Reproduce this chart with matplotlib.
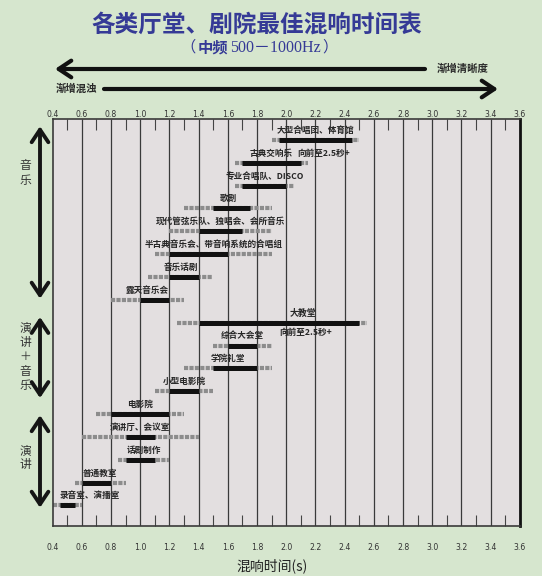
import matplotlib.pyplot as plt
from matplotlib.transforms import blended_transform_factory
import numpy as np

plt.rcParams['font.family'] = ['Noto Sans CJK SC', 'DejaVu Sans']

# rooms, top to bottom
names = ["大型合唱团、体育馆", "古典交响乐", "专业合唱队、DISCO", "歌剧",
         "现代管弦乐队、独唱会、会所音乐", "半古典音乐会、带音响系统的合唱组",
         "音乐话剧", "露天音乐会", "大教堂", "综合大会堂", "学院礼堂",
         "小型电影院", "电影院", "演讲厅、会议室", "话剧制作", "普通教室",
         "录音室、演播室"]
# acceptable range (grey dashed) and best range (black), seconds
range_lo = [1.9, 1.65, 1.65, 1.3, 1.2, 1.1, 1.05, 0.8, 1.25, 1.5, 1.3, 1.1, 0.7, 0.6, 0.85, 0.55, 0.4]
best_lo = [1.95, 1.7, 1.7, 1.5, 1.4, 1.2, 1.2, 1.0, 1.4, 1.6, 1.5, 1.2, 0.8, 0.9, 0.9, 0.6, 0.45]
best_hi = [2.45, 2.1, 2.0, 1.75, 1.7, 1.6, 1.4, 1.2, 2.5, 1.8, 1.8, 1.4, 1.2, 1.1, 1.1, 0.8, 0.55]
range_hi = [2.5, 2.15, 2.05, 1.9, 1.9, 1.9, 1.5, 1.3, 2.55, 1.9, 1.9, 1.5, 1.3, 1.4, 1.2, 0.9, 0.6]
notes = {1: "向前至2.5秒+", 8: "向前至2.5秒+"}

groups = ["音\n乐", "演\n讲\n＋\n音\n乐", "演\n讲"]
group_span = [(-0.6, 6.95), (7.75, 11.3), (12.05, 16.1)]
group_label_y = [1.45, 9.5, 13.9]

tick_vals = [0.4, 0.6, 0.8, 1.0, 1.2, 1.4, 1.6, 1.8, 2.0, 2.2, 2.4, 2.6, 2.8, 3.0, 3.2, 3.4, 3.6]
tick_labels = ["0.4", "0.6", "0.8", "1.0", "1.2", "1.4", "1.6", "1.8", "2.0",
               "2.2", "2.4", "2.6", "2.8", "3.0", "3.2", "3.4", "3.6"]
minor_vals = [0.5, 0.7, 0.9, 1.1, 1.3, 1.5, 1.7, 1.9, 2.1, 2.3, 2.5, 2.7, 2.9, 3.1, 3.3, 3.5]

BG = '#d6e6ce'
PLOT_BG = '#e3dfe0'
BLUE = '#353a96'
INK = '#262626'
NUM_FONT = ['Liberation Sans Narrow', 'DejaVu Sans']

fig = plt.figure(figsize=(5.42, 5.76), dpi=100, facecolor=BG)
ax = fig.add_axes([0.0972, 0.0868, 0.862, 0.706])
ax.set_facecolor(PLOT_BG)
ax.set_xlim(0.4, 3.6)
ax.set_ylim(16.9, -0.9)

# vertical grid lines
ax.vlines(tick_vals[1:-1], -0.9, 16.9, colors='#3a3a3a', lw=0.9, zorder=1)

ax.set_xticks(tick_vals)
ax.set_xticklabels(tick_labels, fontsize=5.6, family=NUM_FONT, color='#333')
ax.set_xticks(minor_vals, minor=True)
ax.tick_params(axis='x', which='major', length=0, pad=12.5)
ax.tick_params(axis='x', which='minor', direction='in', length=8, width=0.8,
               color='#444', top=True, bottom=True)
ax.set_yticks([])
top = ax.secondary_xaxis('top')
top.set_xticks(tick_vals)
top.set_xticklabels(tick_labels, fontsize=5.6, family=NUM_FONT, color='#333')
top.tick_params(length=0, pad=0.5)
top.spines['top'].set_visible(False)

for side in ['left', 'top', 'bottom']:
    ax.spines[side].set_color('#3a3a3a')
    ax.spines[side].set_linewidth(1.2)
ax.spines['right'].set_color('#111')
ax.spines['right'].set_linewidth(2)

for i, name in enumerate(names):
    ax.plot([range_lo[i], range_hi[i]], [i, i], color='#8c8c8c', lw=3,
            ls=(0, (1.0, 0.3)), dash_capstyle='butt', zorder=2)
    ax.plot([best_lo[i], best_hi[i]], [i, i], color='#111', lw=3.6,
            solid_capstyle='butt', zorder=3)
    mid = (range_lo[i] + range_hi[i]) / 2
    if i == 8:
        bmid = (best_lo[i] + best_hi[i]) / 2
        nt = ax.text(bmid, i + 0.42, notes[i], ha='left', va='center',
                     fontsize=6.2, weight='bold', color=INK, zorder=4)
        ax.annotate(name, xy=(0.45, i - 0.42), xycoords=(nt, 'data'),
                    ha='center', va='center', fontsize=6.4, weight='bold',
                    color=INK, zorder=4)
        continue
    if range_lo[i] <= 0.4:
        lab = ax.text(range_lo[i] + 0.05, i - 0.42, name, ha='left', va='center',
                      fontsize=6.2, weight='bold', color=INK, zorder=4)
    else:
        lab = ax.text(mid, i - 0.42, name, ha='center', va='center',
                      fontsize=6.2, weight='bold', color=INK, zorder=4)
    if i in notes:
        ax.annotate(notes[i], xy=(1, 0.5), xycoords=lab, xytext=(3, 0),
                    textcoords='offset points', ha='left', va='center',
                    fontsize=6.2, weight='bold', color=INK, zorder=4)

# group arrows at left
trans = blended_transform_factory(fig.transFigure, ax.transData)
for g, (y0, y1), ly in zip(groups, group_span, group_label_y):
    ax.annotate("", xy=(40 / 542, y0), xytext=(40 / 542, y1),
                xycoords=trans, textcoords=trans, annotation_clip=False,
                arrowprops=dict(arrowstyle='<->,head_length=0.9,head_width=0.6',
                                lw=2.8, color='#151515', shrinkA=0, shrinkB=0))
    ax.text(25 / 542, ly, g, transform=trans, ha='center', va='center',
            fontsize=8.5, color='#333', linespacing=1.15)

# title
fig.text(257 / 542, 1 - 25 / 576, "各类厅堂、剧院最佳混响时间表", ha='center',
         va='center', fontsize=17, weight='bold', color=BLUE)
p1 = fig.text(180 / 542, 1 - 56 / 576, "（", ha='left', va='bottom',
              fontsize=11, color=BLUE)
p2 = plt.annotate("中频", xy=(1, 0), xycoords=p1, xytext=(1.5, 0),
                  textcoords='offset points', ha='left', va='bottom',
                  fontsize=11, weight='bold', color=BLUE, annotation_clip=False)
p3 = plt.annotate("500－1000Hz", xy=(1, 0), xycoords=p2, xytext=(1.5, 0),
                  textcoords='offset points', ha='left', va='bottom',
                  fontsize=11.5, family=['Liberation Serif', 'Noto Sans CJK SC'],
                  color=BLUE, annotation_clip=False)
plt.annotate("）", xy=(1, 0), xycoords=p3, xytext=(1.5, 0),
             textcoords='offset points', ha='left', va='bottom',
             fontsize=11, color=BLUE, annotation_clip=False)

# clarity / muddiness arrows
ax.annotate("", xy=(55 / 542, 1 - 69 / 576), xytext=(425 / 542, 1 - 69 / 576),
            xycoords='figure fraction', textcoords='figure fraction',
            annotation_clip=False,
            arrowprops=dict(arrowstyle='->,head_length=0.9,head_width=0.6',
                            lw=3, color='#111', shrinkA=0, shrinkB=0))
fig.text(463 / 542, 1 - 69 / 576, "渐增清晰度", ha='center', va='center',
         fontsize=7.5, weight='bold', color='#2a2a2a')
ax.annotate("", xy=(498 / 542, 1 - 89 / 576), xytext=(104 / 542, 1 - 89 / 576),
            xycoords='figure fraction', textcoords='figure fraction',
            annotation_clip=False,
            arrowprops=dict(arrowstyle='->,head_length=0.9,head_width=0.6',
                            lw=3, color='#111', shrinkA=0, shrinkB=0))
fig.text(76 / 542, 1 - 89 / 576, "渐增混浊", ha='center', va='center',
         fontsize=7.5, weight='bold', color='#2a2a2a')

fig.text(272 / 542, 1 - 566 / 576, "混响时间(s)", ha='center', va='center',
         fontsize=10, color='#222')

fig.savefig("out.png", dpi=100, facecolor=BG)
